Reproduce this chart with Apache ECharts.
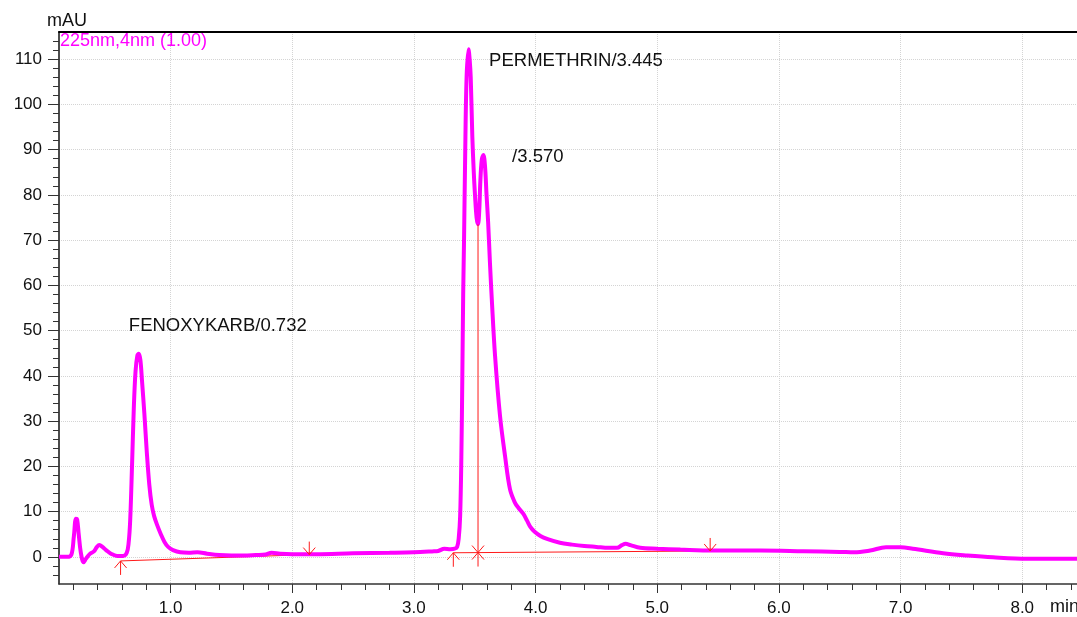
<!DOCTYPE html>
<html>
<head>
<meta charset="utf-8">
<script src="https://cdn.jsdelivr.net/npm/echarts@6/dist/echarts.min.js"></script>
<style>
html,body{margin:0;padding:0;background:#fff;}
#chart{width:1077px;height:617px;}
</style>
</head>
<body>
<div id="chart"></div>
<script>
// ---- data (retention time in min, absorbance in mAU) ----
const times = [0.083,0.15,0.185,0.205,0.222,0.232,0.245,0.262,0.285,0.305,0.335,0.37,0.395,0.415,0.44,0.47,0.51,0.56,0.61,0.64,0.655,0.668,0.683,0.698,0.712,0.727,0.739,0.752,0.765,0.785,0.805,0.825,0.845,0.865,0.89,0.92,0.95,0.98,1.02,1.08,1.15,1.22,1.3,1.4,1.5,1.6,1.7,1.78,1.83,1.9,2.0,2.2,2.5,2.8,3.0,3.15,3.2,3.25,3.3,3.335,3.355,3.368,3.38,3.39,3.398,3.405,3.412,3.422,3.433,3.449,3.458,3.467,3.48,3.492,3.502,3.515,3.527,3.537,3.546,3.558,3.571,3.584,3.597,3.61,3.625,3.64,3.667,3.708,3.749,3.79,3.83,3.86,3.9,3.93,3.96,3.99,4.04,4.1,4.2,4.3,4.4,4.5,4.6,4.67,4.71,4.74,4.78,4.86,5.0,5.19,5.46,5.85,6.2,6.5,6.62,6.75,6.88,7.0,7.1,7.35,7.55,7.76,8.04,8.45];
const absorbance = [0.0,0.0,0.5,4.5,8.4,8.3,5.0,1.0,-1.2,-0.4,0.6,1.2,2.2,2.6,2.2,1.5,0.7,0.2,0.2,0.9,3.0,8.0,20.0,33.0,41.0,44.5,44.9,43.5,39.0,31.5,23.0,16.0,11.5,9.0,7.0,5.0,3.3,2.2,1.5,1.0,0.9,1.0,0.7,0.4,0.3,0.3,0.4,0.5,0.9,0.7,0.6,0.6,0.8,0.9,1.0,1.2,1.3,1.8,1.7,1.8,2.2,4.0,9.0,22.0,40.0,58.0,70.0,90.0,106.0,112.2,110.0,106.0,93.0,85.0,80.0,75.0,73.5,76.5,83.0,87.8,88.8,86.5,80.0,74.0,65.0,57.0,44.4,31.1,22.3,14.9,12.0,10.8,9.5,8.0,6.5,5.6,4.6,3.9,3.1,2.7,2.4,2.2,2.0,2.0,2.6,2.9,2.6,2.0,1.8,1.6,1.4,1.4,1.25,1.1,1.0,1.4,2.1,2.1,1.8,0.8,0.3,-0.1,-0.4,-0.4];

// integration baselines and drop line
const baseline1 = [[0.589,-0.9],[2.14,0.5]];
const baseline2 = [[3.324,0.9],[5.435,1.3]];
const dropLine = [[3.527,73.5],[3.527,0.95]];
// peak start/end markers: kind 0 = start (up arrow), 1 = end (down arrow), 2 = start+end
const markerTimes = [0.589, 2.14, 3.324, 3.527, 5.435];
const markerValues = [-0.9, 0.5, 0.9, 0.95, 1.3];
const markerKinds = [0, 1, 0, 2, 1];

// peak labels (anchor in data units)
const peakNames = ['FENOXYKARB/0.732', 'PERMETHRIN/3.445', '/3.570'];
const peakLabelTimes = [0.657, 3.618, 3.807];
const peakLabelValues = [51.0, 109.6, 88.3];

// ticks
const xMajorTicks = [1,2,3,4,5,6,7,8];
const xMinorTicks = [0.2,0.4,0.6,0.8,1.2,1.4,1.6,1.8,2.2,2.4,2.6,2.8,3.2,3.4,3.6,3.8,4.2,4.4,4.6,4.8,5.2,5.4,5.6,5.8,6.2,6.4,6.6,6.8,7.2,7.4,7.6,7.8,8.2,8.4];
const yMajorTicks = [0,10,20,30,40,50,60,70,80,90,100,110];
const yMinorTicks = [-4,-2,2,4,6,8,12,14,16,18,22,24,26,28,32,34,36,38,42,44,46,48,52,54,56,58,62,64,66,68,72,74,76,78,82,84,86,88,92,94,96,98,102,104,106,108,112,114];

const X_MIN = 0.083, X_MAX = 8.45, Y_MIN = -6, Y_MAX = 116;
const FONT = '"Liberation Sans", Arial, sans-serif';

const chart = echarts.init(document.getElementById('chart'), null, {renderer: 'canvas'});

const trace = times.map((t, i) => [t, absorbance[i]]);
const markers = markerTimes.map((t, i) => [t, markerValues[i], markerKinds[i]]);
const labels = peakNames.map((n, i) => [peakLabelTimes[i], peakLabelValues[i], i]);

const RED = '#ff1a1a';

function markerRender(params, api) {
  const p = api.coord([api.value(0), api.value(1)]);
  const k = api.value(2);
  const x = p[0], y = p[1];
  const seg = (x1, y1, x2, y2) => ({type: 'line', shape: {x1, y1, x2, y2}, style: {stroke: RED, lineWidth: 1}});
  const ch = [];
  if (k === 0) {
    ch.push(seg(x, y, x, y + 14), seg(x, y, x - 6, y + 7), seg(x, y, x + 6, y + 7));
  } else if (k === 1) {
    ch.push(seg(x, y - 13, x, y), seg(x, y, x - 6, y - 7), seg(x, y, x + 6, y - 7));
  } else {
    ch.push(seg(x, y, x, y + 14), seg(x, y, x - 6, y + 7), seg(x, y, x + 6, y + 7),
            seg(x, y, x - 6, y - 7), seg(x, y, x + 6, y - 7));
  }
  return {type: 'group', children: ch};
}

function labelRender(params, api) {
  const p = api.coord([api.value(0), api.value(1)]);
  return {
    type: 'text',
    x: p[0], y: p[1],
    style: {
      text: peakNames[api.value(2)],
      fill: '#111',
      font: '18.5px ' + FONT,
      textAlign: 'left', textVerticalAlign: 'middle',
      align: 'left', verticalAlign: 'middle'
    }
  };
}

const option = {
  animation: false,
  backgroundColor: '#fff',
  grid: {left: 59, right: 0, top: 32, bottom: 33, containLabel: false, outerBoundsMode: 'none'},
  xAxis: [
    {
      type: 'value', min: X_MIN, max: X_MAX, position: 'bottom',
      axisLine: {show: true, onZero: false, lineStyle: {color: '#333', width: 1.5}},
      axisTick: {show: true, customValues: xMinorTicks, length: 6, lineStyle: {color: '#333', width: 1}},
      axisLabel: {show: false}, splitLine: {show: false}
    },
    {
      type: 'value', min: X_MIN, max: X_MAX, position: 'bottom',
      axisLine: {show: false, onZero: false},
      axisTick: {show: true, customValues: xMajorTicks, length: 9, lineStyle: {color: '#333', width: 1}},
      axisLabel: {show: true, customValues: xMajorTicks, margin: 16, color: '#111', fontSize: 17, fontFamily: FONT,
        formatter: v => v.toFixed(1)},
      splitLine: {show: true, lineStyle: {color: '#d4d4d4', type: 'dotted', width: 1}}
    },
    {
      type: 'value', min: X_MIN, max: X_MAX, position: 'top',
      axisLine: {show: true, onZero: false, lineStyle: {color: '#000', width: 2}},
      axisTick: {show: false}, axisLabel: {show: false}, splitLine: {show: false}
    }
  ],
  yAxis: [
    {
      type: 'value', min: Y_MIN, max: Y_MAX, position: 'left',
      axisLine: {show: true, onZero: false, lineStyle: {color: '#111', width: 1.5}},
      axisTick: {show: true, customValues: yMinorTicks, length: 6, lineStyle: {color: '#333', width: 1}},
      axisLabel: {show: false}, splitLine: {show: false}
    },
    {
      type: 'value', min: Y_MIN, max: Y_MAX, position: 'left',
      axisLine: {show: false, onZero: false},
      axisTick: {show: true, customValues: yMajorTicks, length: 11, lineStyle: {color: '#333', width: 1}},
      axisLabel: {show: true, customValues: yMajorTicks, margin: 17, color: '#111', fontSize: 17, fontFamily: FONT},
      splitLine: {show: true, lineStyle: {color: '#d4d4d4', type: 'dotted', width: 1}}
    }
  ],
  graphic: [
    {type: 'text', x: 47, y: 21, style: {text: 'mAU', fill: '#111', font: '18px ' + FONT, textVerticalAlign: 'middle', verticalAlign: 'middle'}},
    {type: 'text', x: 60, y: 41, z: 100, style: {text: '225nm,4nm (1.00)', fill: '#ff00ff', font: '18px ' + FONT, textVerticalAlign: 'middle', verticalAlign: 'middle'}},
    {type: 'text', x: 1050, y: 607, style: {text: 'min', fill: '#111', font: '18px ' + FONT, textVerticalAlign: 'middle', verticalAlign: 'middle'}}
  ],
  series: [
    {type: 'line', name: 'baseline1', data: baseline1, xAxisIndex: 0, yAxisIndex: 0, showSymbol: false, z: 2,
      lineStyle: {color: RED, width: 1}, silent: true},
    {type: 'line', name: 'baseline2', data: baseline2, xAxisIndex: 0, yAxisIndex: 0, showSymbol: false, z: 2,
      lineStyle: {color: RED, width: 1}, silent: true},
    {type: 'line', name: '225nm', data: trace, xAxisIndex: 0, yAxisIndex: 0, showSymbol: false, z: 3,
      smooth: 0.35,
      lineStyle: {color: '#ff00ff', width: 4}, silent: true},
    {type: 'line', name: 'drop', data: dropLine, xAxisIndex: 0, yAxisIndex: 0, showSymbol: false, z: 4,
      lineStyle: {color: RED, width: 1}, silent: true},
    {type: 'custom', name: 'markers', data: markers, xAxisIndex: 0, yAxisIndex: 0, z: 5,
      renderItem: markerRender, silent: true},
    {type: 'custom', name: 'labels', data: labels, xAxisIndex: 0, yAxisIndex: 0, z: 6,
      renderItem: labelRender, silent: true, clip: false}
  ]
};
chart.setOption(option);
</script>
</body>
</html>
